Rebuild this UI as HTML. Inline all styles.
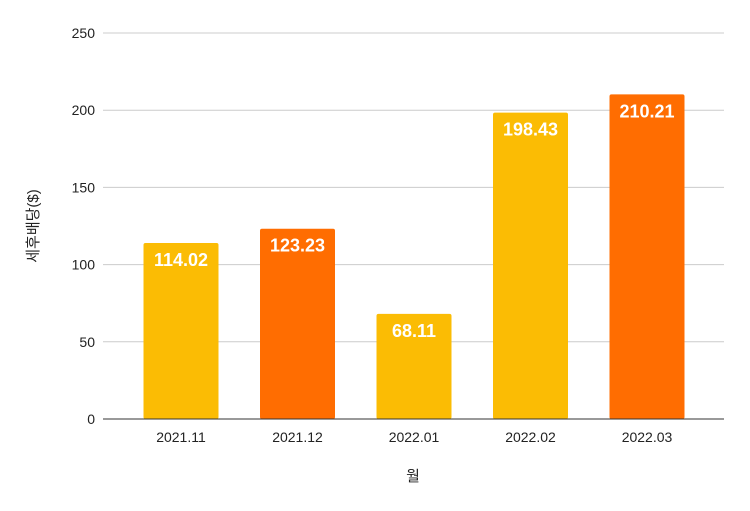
<!DOCTYPE html>
<html><head><meta charset="utf-8"><style>
body{margin:0;background:#fff;}
svg{display:block;font-family:"Liberation Sans","Noto Sans CJK KR",sans-serif;}
</style></head><body>
<svg id="chart" width="750" height="511">
<g id="grid"></g>
<g id="yticks"></g>
<g id="bars"></g>
<g id="xticks"></g>
<line x1="103" x2="724" y1="419" y2="419" stroke="#333" stroke-width="1"/>
<text x="38" y="226" transform="rotate(-90 38 226)" text-anchor="middle" font-size="15" fill="#222">세후배당($)</text>
<text x="413" y="481" text-anchor="middle" font-size="15" fill="#222">월</text>
</svg>
<script>
const categories=["2021.11","2021.12","2022.01","2022.02","2022.03"];
const values=[114.02,123.23,68.11,198.43,210.21];
const yTicks=[0,50,100,150,200,250];
const colors=["#FBBC04","#FF6D01","#FBBC04","#FBBC04","#FF6D01"];
const NS="http://www.w3.org/2000/svg";
const y0=419,yTop=33,yMax=250;
function yScale(v){return y0-(v/yMax)*(y0-yTop);}
function xCenter(i){return 181+i*116.5;}
const bw=75;
function mk(tag,attrs,parent){const e=document.createElementNS(NS,tag);for(const k in attrs)e.setAttribute(k,attrs[k]);parent.appendChild(e);return e;}
const grid=document.getElementById('grid'),yt=document.getElementById('yticks'),bars=document.getElementById('bars'),xt=document.getElementById('xticks');
yTicks.forEach(t=>{
  const y=yScale(t);
  if(t>0){const l=mk('line',{x1:103,x2:724,y1:y,y2:y,stroke:'#ccc','stroke-width':1},grid);
  
  }
  const tx=mk('text',{x:95,y:y+5,'text-anchor':'end','font-size':14,fill:'#222'},yt);
  tx.textContent=t;
  
  
});
categories.forEach((c,i)=>{
  const cx=xCenter(i),y=yScale(values[i]);
  const r=mk('rect',{x:cx-bw/2,y:y,width:bw,height:y0-y,fill:colors[i],rx:2},bars);
  
  
  const lb=mk('text',{x:cx,y:y+23,'text-anchor':'middle','font-size':18,'font-weight':'bold',fill:'#fff'},bars);
  lb.textContent=values[i].toFixed(2);
  
  
  const xl=mk('text',{x:cx,y:442,'text-anchor':'middle','font-size':14,fill:'#222'},xt);
  xl.textContent=c;
  
  
});
</script>
</body></html>
